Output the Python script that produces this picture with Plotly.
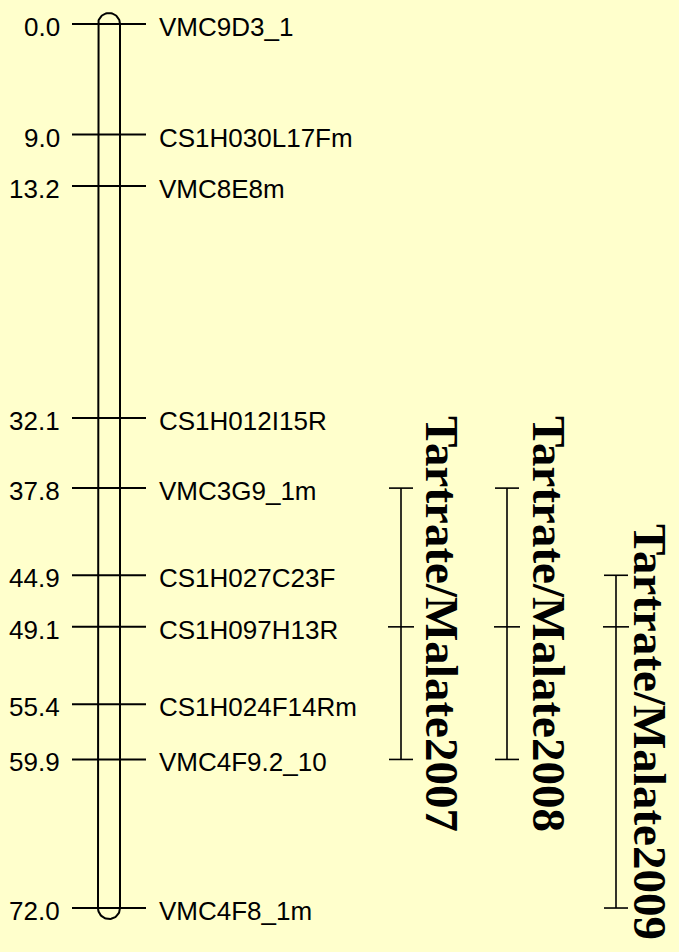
import numpy as np
import plotly.graph_objects as go

# Linkage group markers (position in cM, marker name)
marker_pos = [0.0, 9.0, 13.2, 32.1, 37.8, 44.9, 49.1, 55.4, 59.9, 72.0]
marker_names = ["VMC9D3_1", "CS1H030L17Fm", "VMC8E8m", "CS1H012I15R", "VMC3G9_1m",
                "CS1H027C23F", "CS1H097H13R", "CS1H024F14Rm", "VMC4F9.2_10", "VMC4F8_1m"]

# QTL intervals: name, start, peak, end (cM)
qtl_names = ["Tartrate/Malate2007", "Tartrate/Malate2008", "Tartrate/Malate2009"]
qtl_start = [37.8, 37.8, 44.9]
qtl_peak = [49.1, 49.1, 49.1]
qtl_end = [59.9, 59.9, 72.0]

W, H = 679, 952
PX_PER_CM = 12.278
TOP_PX = 24
y_top = -TOP_PX / PX_PER_CM
y_bot = (H - TOP_PX) / PX_PER_CM

BG = "#FFFFCC"
INK = "black"
LABEL_FONT = dict(family="Arial, Liberation Sans, sans-serif", size=26, color=INK)
QTL_FONT = dict(family="Times New Roman, Liberation Serif, serif", size=47, color=INK)

# chromosome geometry (x in pixel units, y in cM)
chr_left, chr_right = 98, 120
radius_x = (chr_right - chr_left) / 2
radius_y = radius_x / PX_PER_CM
cx = (chr_left + chr_right) / 2
chr_top, chr_bot = min(marker_pos), max(marker_pos)

fig = go.Figure()

# chromosome outline with rounded ends
theta_top = np.linspace(np.pi, 0, 40)
theta_bot = np.linspace(0, -np.pi, 40)
xs, ys = [chr_left, chr_left], [chr_bot, chr_top]
for t in theta_top:
    xs.append(cx + radius_x * np.cos(t)); ys.append(chr_top - radius_y * np.sin(t))
xs.append(chr_right); ys.append(chr_bot)
for t in theta_bot:
    xs.append(cx + radius_x * np.cos(t)); ys.append(chr_bot - radius_y * np.sin(t))
fig.add_trace(go.Scatter(x=xs, y=ys, mode="lines", line=dict(color=INK, width=2),
                         hoverinfo="skip", showlegend=False))

# marker ticks across the chromosome
mx, my = [], []
for p in marker_pos:
    mx += [72, 146, None]
    my += [p, p, None]
fig.add_trace(go.Scatter(x=mx, y=my, mode="lines", line=dict(color=INK, width=2),
                         hoverinfo="skip", showlegend=False))

# position labels (left) and marker names (right)
for p, n in zip(marker_pos, marker_names):
    fig.add_annotation(x=62, y=p, text=f"{p:.1f}", showarrow=False, xanchor="right",
                       yanchor="middle", yshift=-3, font=LABEL_FONT)
    fig.add_annotation(x=157, y=p, text=n, showarrow=False, xanchor="left",
                       yanchor="middle", yshift=-3, font=LABEL_FONT)

# QTL intervals with end caps and peak tick
qtl_x = [401, 507, 616]
qtl_text_x = [442, 549, 650]
qtl_text_center_px = [624, 624, 732]
for i, name in enumerate(qtl_names):
    x0 = qtl_x[i]
    lx = [x0, x0, None, x0 - 12, x0 + 12, None, x0 - 12, x0 + 12, None, x0 - 13, x0 + 13]
    ly = [qtl_start[i], qtl_end[i], None, qtl_start[i], qtl_start[i], None,
          qtl_end[i], qtl_end[i], None, qtl_peak[i], qtl_peak[i]]
    fig.add_trace(go.Scatter(x=lx, y=ly, mode="lines", line=dict(color=INK, width=1.6),
                             hoverinfo="skip", showlegend=False))
    fig.add_annotation(x=qtl_text_x[i], y=(qtl_text_center_px[i] - TOP_PX) / PX_PER_CM,
                       text=f"<b>{name}</b>", textangle=90, showarrow=False,
                       xanchor="center", yanchor="middle", font=QTL_FONT, borderpad=0)

fig.update_layout(
    width=W, height=H,
    margin=dict(l=0, r=0, t=0, b=0),
    paper_bgcolor=BG, plot_bgcolor=BG,
    xaxis=dict(range=[0, W], visible=False, fixedrange=True),
    yaxis=dict(range=[y_bot, y_top], visible=False, fixedrange=True),
)

fig.write_html("out.html")
